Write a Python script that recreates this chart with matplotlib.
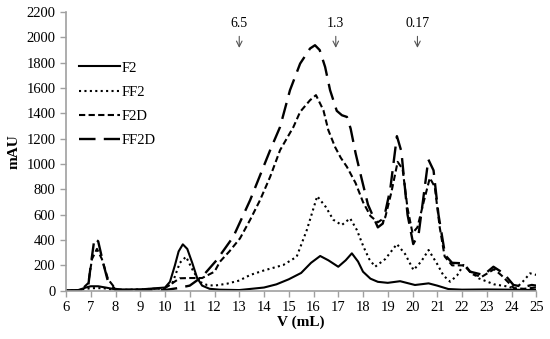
import matplotlib.pyplot as plt

plt.rcParams['font.family'] = ['Liberation Serif', 'DejaVu Serif']

# elution volume (mL) and absorbance (mAU)
v_f2 = [6, 6.5, 6.8, 7.0, 7.3, 7.6, 8.0, 9.0, 10.0, 10.2, 10.4, 10.55, 10.72, 10.9, 11.1, 11.3, 11.5,
        11.8, 12.2, 13.0, 14.0, 14.5, 15.0, 15.5, 15.9, 16.27, 16.6, 17.0, 17.3, 17.55, 17.8, 18.0,
        18.3, 18.6, 19.0, 19.5, 19.8, 20.1, 20.4, 20.65, 21.0, 21.45, 22.0, 23.0, 24.0, 25.0]
i_f2 = [0, 5, 25, 35, 35, 25, 10, 10, 25, 70, 200, 310, 366, 330, 220, 100, 40,
        15, 8, 5, 25, 50, 90, 140, 220, 274, 240, 189, 240, 295, 230, 150,
        95, 70, 62, 75, 60, 45, 52, 58, 40, 13, 8, 10, 8, 5]

v_ff2 = [6, 6.5, 7.0, 7.5, 8.0, 9.0, 10.0, 10.3, 10.6, 10.85, 11.1, 11.4, 11.7, 12.0, 12.5, 13.0,
         13.44, 14.0, 14.78, 15.32, 15.73, 16.15, 16.5, 16.8, 17.14, 17.48, 17.75, 18.02, 18.25,
         18.49, 18.9, 19.37, 19.7, 20.04, 20.35, 20.65, 21.0, 21.25, 21.52, 21.8, 22.06, 22.35,
         22.67, 23.3, 23.88, 24.15, 24.45, 24.75, 25.0]
i_ff2 = [0, 5, 20, 20, 5, 10, 20, 60, 220, 268, 170, 70, 45, 40, 55, 80,
         124, 160, 203, 268, 479, 746, 660, 560, 518, 571, 480, 347, 250,
         189, 250, 368, 290, 163, 230, 321, 210, 120, 71, 120, 203, 150,
         98, 50, 32, 13, 70, 137, 125]

v_f2d = [6, 6.6, 6.9, 7.05, 7.25, 7.45, 7.7, 8.0, 8.3, 9.0, 10.0, 10.3, 10.6, 11.0, 11.5, 12.0,
         12.22, 12.6, 13.03, 13.44, 13.84, 14.25, 14.65, 15.19, 15.46, 15.86, 16.1, 16.4, 16.6,
         16.87, 17.1, 17.35, 17.7, 18.0, 18.3, 18.6, 18.9, 19.15, 19.4, 19.6, 19.8, 20.0, 20.2,
         20.45, 20.7, 20.9, 21.1, 21.3, 21.6, 22.1, 22.4, 22.8, 23.3, 23.6, 24.1, 24.5, 25.0]
i_f2d = [0, 5, 60, 250, 330, 250, 90, 15, 5, 8, 20, 60, 98, 100, 100, 150,
         229, 310, 413, 560, 715, 900, 1110, 1293, 1412, 1504, 1544, 1425, 1267,
         1135, 1050, 978, 850, 700, 590, 540, 580, 780, 1017, 960, 650, 455, 500,
         700, 890, 820, 500, 270, 200, 200, 130, 110, 170, 120, 20, 15, 25]

v_ff2d = [6, 6.6, 6.9, 7.0, 7.15, 7.3, 7.5, 7.7, 8.0, 8.3, 9.0, 10.0, 10.47, 11.0, 11.5, 12.09,
          12.76, 13.44, 14.25, 14.65, 15.05, 15.46, 15.86, 16.06, 16.25, 16.47, 16.67, 16.94,
          17.15, 17.35, 17.5, 17.7, 17.9, 18.2, 18.6, 18.8, 19.1, 19.37, 19.55, 19.8, 20.03,
          20.25, 20.45, 20.64, 20.85, 21.05, 21.32, 21.6, 22.06, 22.33, 22.87, 23.27, 23.68,
          24.08, 24.5, 24.82, 25.0]
i_ff2d = [0, 5, 40, 200, 413, 390, 220, 70, 10, 3, 5, 5, 19, 40, 110, 242,
          426, 715, 1110, 1293, 1583, 1793, 1912, 1938, 1900, 1766, 1583, 1420,
          1385, 1372, 1280, 1086, 920, 680, 500, 530, 800, 1220, 1100, 600, 368,
          450, 750, 1036, 950, 600, 281, 220, 216, 150, 124, 189, 137,
          45, 30, 45, 40]

markers_v = [13.0, 16.9, 20.2]
markers_txt = ['6.5', '1.3', '0.17']

fig = plt.figure(figsize=(5.5, 3.39), dpi=100)
ax = fig.add_axes([0.12, 0.1425, 0.855, 0.822])

ax.plot(v_f2, i_f2, color='black', lw=1.5, label='F2')
ax.plot(v_ff2, i_ff2, color='black', lw=1.5, dashes=(1, 1.6), label='FF2')
ax.plot(v_f2d, i_f2d, color='black', lw=1.5, dashes=(3, 1.6), label='F2D')
ax.plot(v_ff2d, i_ff2d, color='black', lw=1.7, dashes=(7, 3.5), label='FF2D')

for xv, t in zip(markers_v, markers_txt):
    ax.annotate('', xy=(xv, 1895), xytext=(xv, 2030),
                arrowprops=dict(arrowstyle='->', color='#555555', lw=0.8), annotation_clip=False)
    ax.text(xv, 2055, t, ha='center', va='bottom', fontsize=10)

ax.set_xlim(6, 25)
ax.set_ylim(0, 2200)
ax.set_xticks(range(6, 26))
ax.set_yticks(range(0, 2201, 200))
ax.tick_params(labelsize=10.5, color='#a0a0a0', length=4, width=1)
for s in ['top', 'right']:
    ax.spines[s].set_visible(False)
for s in ['left', 'bottom']:
    ax.spines[s].set_color('#a0a0a0')
    ax.spines[s].set_linewidth(1.2)

ax.set_xlabel('V (mL)', fontweight='bold', fontsize=11, labelpad=1)
ax.set_ylabel('mAU', fontweight='bold', fontsize=11, labelpad=4)

ax.legend(loc='upper left', bbox_to_anchor=(0.0, 0.87), frameon=False, fontsize=10.5,
          handlelength=2.8, handletextpad=0.1, labelspacing=0.75)

fig.savefig('out.png', dpi=100)
